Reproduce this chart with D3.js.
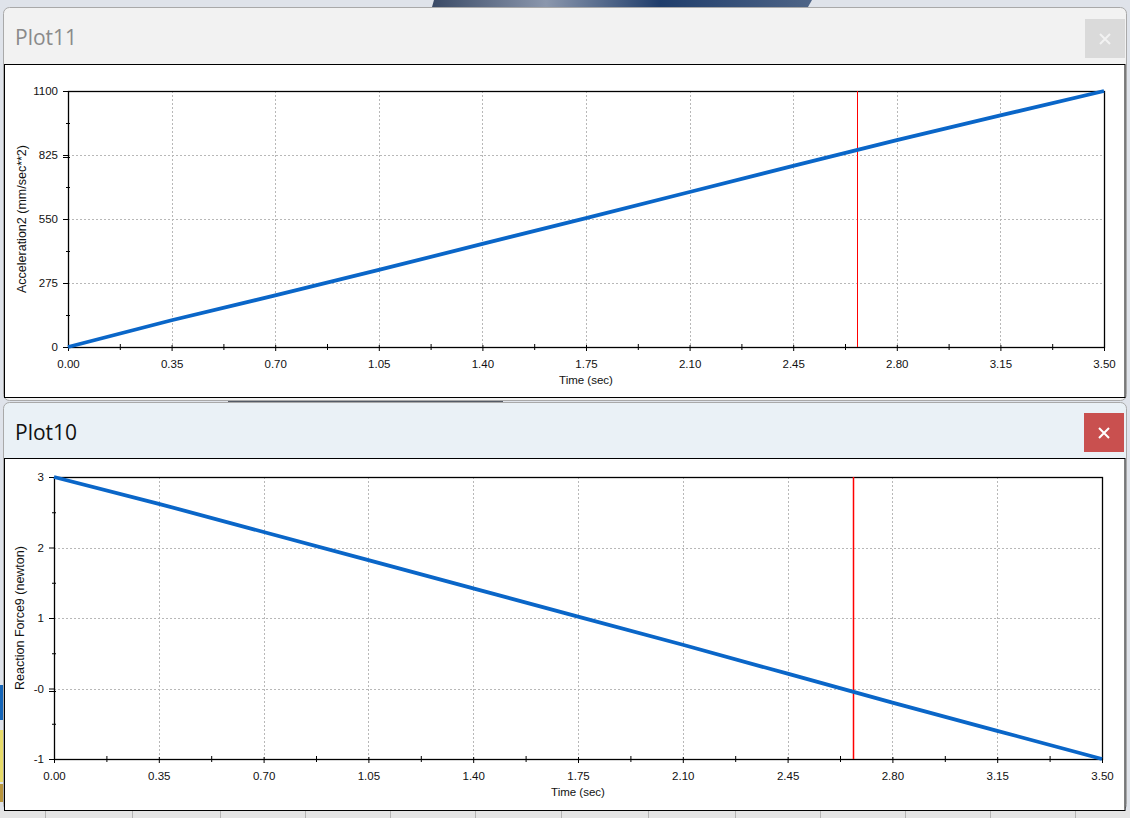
<!DOCTYPE html>
<html><head><meta charset="utf-8">
<script src="https://cdn.jsdelivr.net/npm/d3@7"></script>
<style>
html,body{margin:0;padding:0;background:#dfe3ea;overflow:hidden;}
svg{display:block;}
</style></head>
<body>
<svg id="c" width="1130" height="818"></svg>
<script>
// ---- data ----
const timeTicks = [0, 0.35, 0.70, 1.05, 1.40, 1.75, 2.10, 2.45, 2.80, 3.15, 3.50];
const timeTickLabels = ["0.00","0.35","0.70","1.05","1.40","1.75","2.10","2.45","2.80","3.15","3.50"];
const sampleTime = [0, 0.35, 0.70, 1.05, 1.40, 1.75, 2.10, 2.45, 2.80, 3.15, 3.50];
const accelValues = [0, 115, 222, 331, 443, 554, 666, 778, 889, 995, 1100];
const accelTicks = [0, 275, 550, 825, 1100];
const accelTickLabels = ["0","275","550","825","1100"];
const forceValues = [3, 2.62, 2.22, 1.82, 1.42, 1.02, 0.62, 0.21, -0.20, -0.60, -1];
const forceTicks = [-1, 0, 1, 2, 3];
const forceTickLabels = ["-1","-0","1","2","3"];
const cursorTime = 2.667;

const svg = d3.select("#c");
const FONT = "'Liberation Sans', Arial, sans-serif";

// ---- desktop background ----
svg.append("rect").attr("x",0).attr("y",0).attr("width",1130).attr("height",818).attr("fill","#dfe3ea");
const g0 = svg.append("defs").append("linearGradient").attr("id","sky").attr("x1",0).attr("x2",1);
[["0","#3a4a66"],["0.3","#8b97ad"],["0.6","#1f3d6b"],["1","#4f6587"]].forEach(s=>g0.append("stop").attr("offset",s[0]).attr("stop-color",s[1]));
svg.append("path").attr("d","M434,0 L812,0 L808,7 L432,7 Z").attr("fill","url(#sky)");
svg.append("rect").attr("x",0).attr("y",685).attr("width",3).attr("height",35).attr("fill","#1565b8");
svg.append("rect").attr("x",0).attr("y",730).attr("width",3).attr("height",52).attr("fill","#e8dc6a");
svg.append("rect").attr("x",0).attr("y",784).attr("width",3).attr("height",18).attr("fill","#b9953d");
// bottom strip
svg.append("rect").attr("x",0).attr("y",810).attr("width",1130).attr("height",8).attr("fill","#e4e4e4");
[45,132,220,305,390,475,561,648,735,820,905,990,1075].forEach(x=>
  svg.append("line").attr("x1",x+0.5).attr("x2",x+0.5).attr("y1",811).attr("y2",818).attr("stroke","#b4b4b4"));

function windowFrame(o){
  svg.append("rect").attr("x",o.x+0.5).attr("y",o.y+0.5).attr("width",o.w).attr("height",o.h)
    .attr("rx",6).attr("fill",o.headerBg).attr("stroke","#a9a9a9");
  svg.append("text").attr("x",15).attr("y",o.y+38).attr("font-family","'Open Sans','Noto Sans',sans-serif")
    .attr("font-size",21).attr("fill",o.titleColor).text(o.title);
  svg.append("rect").attr("x",o.bx).attr("y",o.by).attr("width",40).attr("height",39).attr("fill",o.btnBg);
  const cx=o.bx+20, cy=o.by+20;
  svg.append("path").attr("d",`M${cx-5},${cy-5}L${cx+5},${cy+5}M${cx+5},${cy-5}L${cx-5},${cy+5}`)
    .attr("stroke",o.btnFg).attr("stroke-width",2);
  svg.append("rect").attr("x",o.x+1.5).attr("y",o.py+0.5).attr("width",o.w-2.5).attr("height",o.ph)
    .attr("fill","#fff").attr("stroke","#000");
}

function plot(o){
  const x = d3.scaleLinear().domain([0,3.5]).range([o.x0,o.x1]);
  const y = d3.scaleLinear().domain(o.ydom).range([o.y1,o.y0]);
  const g = svg.append("g");
  timeTicks.forEach((t,i)=>{ if(i>0&&i<timeTicks.length-1)
    g.append("line").attr("x1",Math.round(x(t))+0.5).attr("x2",Math.round(x(t))+0.5).attr("y1",o.y0).attr("y2",o.y1)
      .attr("stroke","#b8b8b8").attr("stroke-dasharray","2,2");});
  o.yticks.forEach((v,i)=>{ if(v!==o.ydom[0]&&v!==o.ydom[1])
    g.append("line").attr("x1",o.x0).attr("x2",o.x1).attr("y1",Math.round(y(v))+0.5).attr("y2",Math.round(y(v))+0.5)
      .attr("stroke","#b8b8b8").attr("stroke-dasharray","2,2");});
  const xAxis = d3.axisBottom(x).tickValues(timeTicks).tickFormat((d,i)=>timeTickLabels[i]).tickSize(4).tickPadding(9);
  const ax = g.append("g").attr("transform",`translate(0,${o.y1})`).call(xAxis);
  const minorX = timeTicks.slice(0,-1).map((t,i)=>(t+timeTicks[i+1])/2);
  g.append("g").attr("transform",`translate(0,${o.y1})`).call(d3.axisBottom(x).tickValues(minorX).tickSize(3).tickFormat(""))
    .call(s=>s.select(".domain").remove()).selectAll("line").attr("y1",-3).attr("stroke","#000");
  ax.selectAll("line").attr("y1",-2);
  const yAxis = d3.axisLeft(y).tickValues(o.yticks).tickFormat((d,i)=>o.ylabels[i]).tickSize(5).tickPadding(5);
  const ay = g.append("g").attr("transform",`translate(${o.x0},0)`).call(yAxis);
  const minorY = o.yticks.slice(0,-1).map((t,i)=>(t+o.yticks[i+1])/2);
  g.append("g").attr("transform",`translate(${o.x0},0)`).call(d3.axisLeft(y).tickValues(minorY).tickSize(2).tickFormat(""))
    .call(s=>s.select(".domain").remove()).selectAll("line").attr("x2",2).attr("x1",-2).attr("stroke","#000");
  g.append("line").attr("x1",o.x0-5).attr("x2",o.x0+2).attr("y1",Math.round(y(o.dbl))+2.5).attr("y2",Math.round(y(o.dbl))+2.5).attr("stroke","#000");
  [ax,ay].forEach(a=>{a.selectAll("text").attr("font-family",FONT).attr("font-size",11.5).attr("fill","#111");
    a.select(".domain").remove(); a.selectAll("line").attr("stroke","#000");});
  g.append("rect").attr("x",o.x0+0.5).attr("y",o.y0+0.5).attr("width",o.x1-o.x0).attr("height",o.y1-o.y0)
    .attr("fill","none").attr("stroke","#000").attr("stroke-width",1.3);
  g.append("line").attr("x1",Math.round(x(cursorTime))+0.5).attr("x2",Math.round(x(cursorTime))+0.5)
    .attr("y1",o.y0).attr("y2",o.y1).attr("stroke","#ff0000").attr("stroke-width",o.cw);
  const line = d3.line().x((d,i)=>x(sampleTime[i])).y(d=>y(d));
  g.append("path").datum(o.values).attr("d",line).attr("fill","none").attr("stroke","#0a66c8").attr("stroke-width",3.8);
  g.append("text").attr("x",(o.x0+o.x1)/2).attr("y",o.y1+37).attr("text-anchor","middle")
    .attr("font-family",FONT).attr("font-size",11.5).attr("fill","#111").text("Time (sec)");
  g.append("text").attr("transform",`translate(${o.ytx},${(o.y0+o.y1)/2}) rotate(-90)`).attr("text-anchor","middle")
    .attr("font-family",FONT).attr("font-size",12.5).attr("fill","#111").text(o.ytitle);
}

svg.append("rect").attr("x",228).attr("y",399).attr("width",275).attr("height",4).attr("fill","#555b66");

windowFrame({x:3,y:7,w:1123,h:393,headerBg:"#f2f2f2",title:"Plot11",titleColor:"#8a8a8a",
  bx:1085,by:19,btnBg:"#dadada",btnFg:"#f2f2f2",py:64,ph:333});
windowFrame({x:3,y:402,w:1123,h:408,headerBg:"#eaf1f6",title:"Plot10",titleColor:"#111",
  bx:1084,by:413,btnBg:"#c9504f",btnFg:"#ffffff",py:458,ph:352});

plot({x0:68,x1:1104,y0:91,y1:347,ydom:[0,1100],yticks:accelTicks,ylabels:accelTickLabels,
  values:accelValues,ytitle:"Acceleration2 (mm/sec**2)",ytx:26,dbl:825,cw:1});
plot({x0:54,x1:1102,y0:477,y1:759,ydom:[-1,3],yticks:forceTicks,ylabels:forceTickLabels,
  values:forceValues,ytitle:"Reaction Force9 (newton)",ytx:24,dbl:0,cw:1.5});
</script>
</body></html>
